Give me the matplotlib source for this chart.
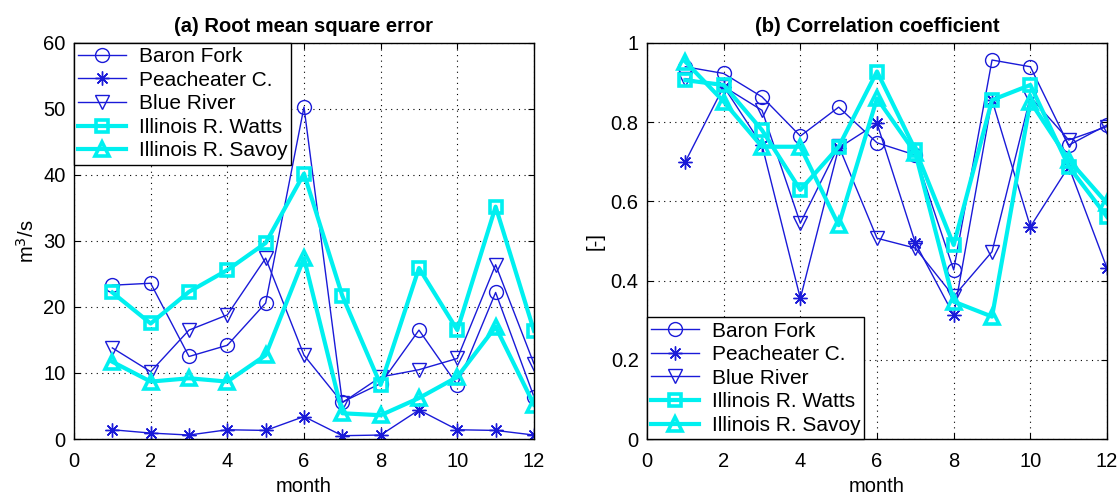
import numpy as np
import matplotlib.pyplot as plt

plt.rcParams['font.family'] = ['Liberation Sans', 'DejaVu Sans']

months = np.arange(1, 13)
names = ["Baron Fork", "Peacheater C.", "Blue River",
         "Illinois R. Watts", "Illinois R. Savoy"]

# RMSE per month (m3/s)
rmse_baron = [23.3, 23.6, 12.5, 14.2, 20.6, 50.3, 5.6, 8.4, 16.5, 8.2, 22.2, 6.4]
rmse_peach = [1.4, 0.9, 0.6, 1.4, 1.3, 3.4, 0.5, 0.6, 4.4, 1.4, 1.3, 0.6]
rmse_blue = [13.8, 10.2, 16.5, 18.8, 27.4, 12.7, 5.5, 9.4, 10.5, 12.2, 26.4, 11.4]
rmse_watts = [22.2, 17.5, 22.3, 25.6, 29.7, 40.2, 21.7, 8.2, 25.9, 16.5, 35.2, 16.4]
rmse_savoy = [11.7, 8.7, 9.2, 8.7, 12.7, 27.4, 3.9, 3.6, 6.2, 9.4, 17.0, 5.2]

# correlation coefficient per month
cc_baron = [0.94, 0.923, 0.864, 0.765, 0.838, 0.748, 0.717, 0.427, 0.957, 0.94, 0.742, 0.793]
cc_peach = [0.70, 0.89, 0.742, 0.355, 0.735, 0.797, 0.495, 0.313, 0.856, 0.536, 0.688, 0.431]
cc_blue = [0.91, 0.89, 0.83, 0.545, 0.74, 0.507, 0.482, 0.36, 0.473, 0.864, 0.755, 0.789]
cc_watts = [0.906, 0.894, 0.78, 0.629, 0.738, 0.928, 0.73, 0.49, 0.856, 0.894, 0.688, 0.561]
cc_savoy = [0.953, 0.852, 0.738, 0.738, 0.54, 0.86, 0.722, 0.347, 0.309, 0.852, 0.705, 0.595]

blue = '#1a1ad8'
cyan = '#00f0f0'
# asterisk = plus and cross overlaid (8 spokes)
styles = [
    dict(color=blue, marker='o', lw=1.0, ms=10, mew=1.0),
    dict(color=blue, marker=(8, 2, 0), lw=1.0, ms=10, mew=1.0),
    dict(color=blue, marker='v', lw=1.0, ms=10.5, mew=1.0),
    dict(color=cyan, marker='s', lw=3.0, ms=9, mew=2.6),
    dict(color=cyan, marker='^', lw=3.0, ms=10.5, mew=2.6),
]


def draw(ax, series, ylim, yticks, ylabel, title, legend_loc):
    for vals, name, st in zip(series, names, styles):
        ax.plot(months, vals, color=st['color'], lw=st['lw'],
                marker=st['marker'], ms=st['ms'], mfc='none',
                mec=st['color'], mew=st['mew'], label=name)
    ax.set_xlim(0, 12)
    ax.set_ylim(*ylim)
    ax.set_xticks(range(0, 13, 2))
    ax.set_yticks(yticks)
    ax.grid(True, color='k', linestyle=(0, (1, 4)), linewidth=0.8)
    ax.tick_params(direction='in', top=True, right=True, labelsize=14.5,
                   length=4, width=0.8)
    ax.tick_params(axis='x', pad=9)
    ax.tick_params(axis='y', pad=6)
    for sp in ax.spines.values():
        sp.set_linewidth(1.0)
    ax.set_xlabel('month', fontsize=14.5, labelpad=5)
    ax.set_ylabel(ylabel, fontsize=14.5, labelpad=4)
    ax.set_title(title, fontsize=14.5, fontweight='bold', pad=8)
    leg = ax.legend(loc=legend_loc, fontsize=15, borderaxespad=0,
                    fancybox=False, framealpha=1, edgecolor='k',
                    handlelength=2.3, labelspacing=0.22, borderpad=0.2,
                    handletextpad=0.6)
    leg.get_frame().set_linewidth(1.0)


fig = plt.figure(figsize=(11.18, 4.97), dpi=100)
ax1 = fig.add_axes([0.0662, 0.1167, 0.4114, 0.7968])
ax2 = fig.add_axes([0.5787, 0.1167, 0.4115, 0.7968])

draw(ax1, [rmse_baron, rmse_peach, rmse_blue, rmse_watts, rmse_savoy],
     (0, 60), range(0, 61, 10), 'm$^3$/s', '(a) Root mean square error',
     'upper left')
draw(ax2, [cc_baron, cc_peach, cc_blue, cc_watts, cc_savoy],
     (0, 1), [0, 0.2, 0.4, 0.6, 0.8, 1], '[-]', '(b) Correlation coefficient',
     'lower left')
ax2.set_yticklabels(['0', '0.2', '0.4', '0.6', '0.8', '1'])

fig.savefig('out.png', dpi=100)
